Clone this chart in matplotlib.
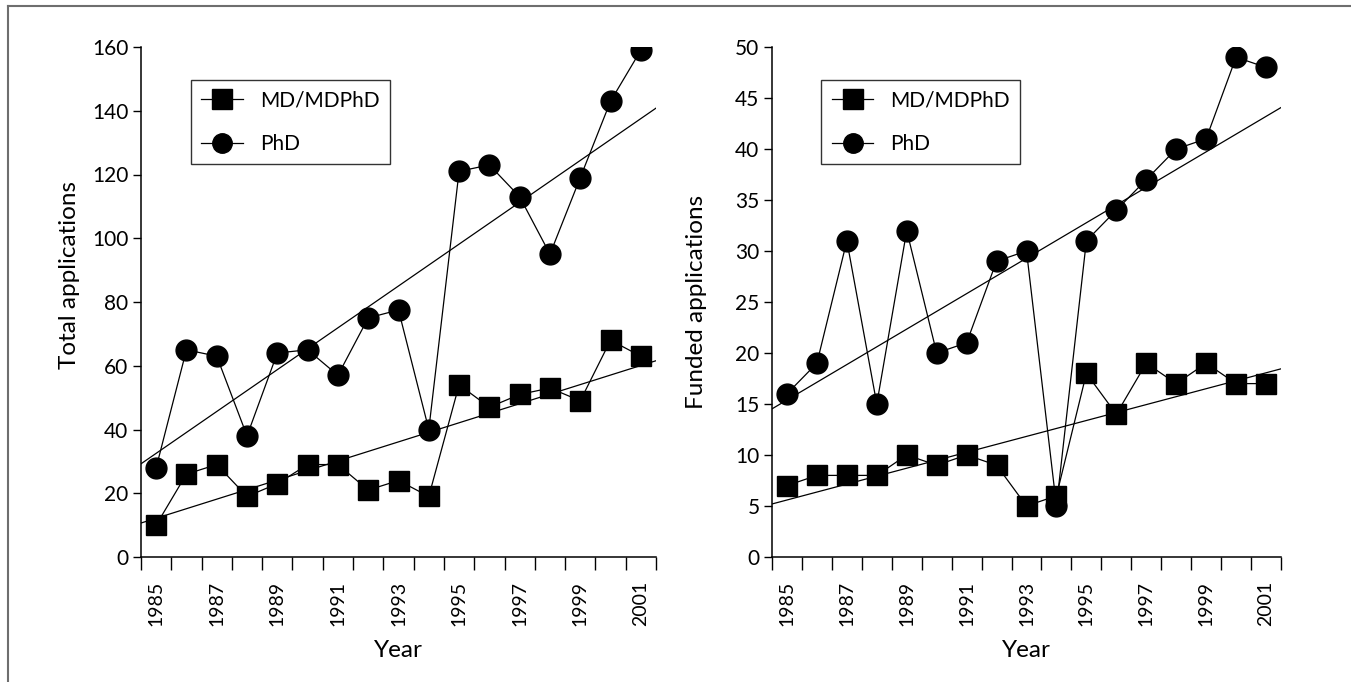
import matplotlib
matplotlib.use("Agg")
import matplotlib.pyplot as plt
import numpy as np
from matplotlib.lines import Line2D

plt.rcParams['font.family'] = ['Lato', 'DejaVu Sans']

years = list(range(1985, 2002))
tick_years = [1985, 1987, 1989, 1991, 1993, 1995, 1997, 1999, 2001]

total_md = [10, 26, 29, 19, 23, 29, 29, 21, 24, 19, 54, 47, 51, 53, 49, 68, 63]
total_phd = [28, 65, 63, 38, 64, 65, 57, 75, 77.5, 40, 121, 123, 113, 95, 119, 143, 159]

funded_md = [7, 8, 8, 8, 10, 9, 10, 9, 5, 6, 18, 14, 19, 17, 19, 17, 17]
funded_phd = [16, 19, 31, 15, 32, 20, 21, 29, 30, 5, 31, 34, 37, 40, 41, 49, 48]

W, H = 1351, 682
fig = plt.figure(figsize=(W / 100, H / 100), dpi=100)

# outer frame (only top and left edges visible)
fig.add_artist(Line2D([8 / W, 1.0], [1 - 6 / H, 1 - 6 / H], color='#6e6e6e', lw=1.5,
                      transform=fig.transFigure))
fig.add_artist(Line2D([8 / W, 8 / W], [0.0, 1 - 6 / H], color='#6e6e6e', lw=1.5,
                      transform=fig.transFigure))

ax1 = fig.add_axes([141 / W, 1 - 557 / H, (656 - 141) / W, (557 - 47) / H])
ax2 = fig.add_axes([772 / W, 1 - 557 / H, (1281 - 772) / W, (557 - 47) / H])


def panel(ax, md, phd, ymax, ystep, ylabel, ylab_xy):
    n = len(years)
    x = np.arange(n) + 0.5
    ax.plot(x, md, color='black', lw=0.9, marker='s', markersize=15,
            markerfacecolor='black', markeredgecolor='black', label='MD/MDPhD', zorder=3)
    ax.plot(x, phd, color='black', lw=0.9, marker='o', markersize=15,
            markerfacecolor='black', markeredgecolor='black', label='PhD', zorder=3)
    # linear trend lines
    xf = np.array([0, n])
    for ser in (md, phd):
        c = np.polyfit(x, ser, 1)
        ax.plot(xf, np.polyval(c, xf), color='black', lw=0.9, zorder=2)
    ax.set_xlim(0, n)
    ax.set_ylim(0, ymax)
    ax.set_yticks(np.arange(0, ymax + 0.1, ystep))
    ax.set_xticks(np.arange(0, n + 1))
    ax.set_xticklabels([])
    minor_pos = [years.index(y) + 0.5 for y in tick_years]
    ax.set_xticks(minor_pos, minor=True)
    ax.set_xticklabels([str(y) for y in tick_years], minor=True, rotation=90,
                       fontsize=14)
    ax.tick_params(axis='x', which='major', direction='out', length=9, width=1)
    ax.tick_params(axis='x', which='minor', length=0, pad=17)
    ax.tick_params(axis='y', direction='out', length=6, width=1, labelsize=15, pad=3)
    for s in ('top', 'right'):
        ax.spines[s].set_visible(False)
    for s in ('left', 'bottom'):
        ax.spines[s].set_linewidth(1.1)
    ax.set_xlabel('Year', fontsize=17.5, labelpad=10)
    ax.set_ylabel(ylabel, fontsize=17.5)
    ax.yaxis.set_label_coords(*ylab_xy)
    leg = ax.legend(loc='upper left', bbox_to_anchor=(0.097, 0.936), fontsize=15,
                    frameon=True, fancybox=False, edgecolor='black',
                    handlelength=2.0, borderpad=0.5, labelspacing=1.15,
                    handletextpad=0.8, borderaxespad=0)
    leg.get_frame().set_linewidth(1.0)
    leg.get_frame().set_facecolor('white')
    for h in leg.legend_handles:
        h.set_markersize(14)


panel(ax1, total_md, total_phd, 160, 20, 'Total applications', (-0.118, 0.553))
panel(ax2, funded_md, funded_phd, 50, 5, 'Funded applications', (-0.128, 0.50))

fig.savefig('out.png', dpi=100)
